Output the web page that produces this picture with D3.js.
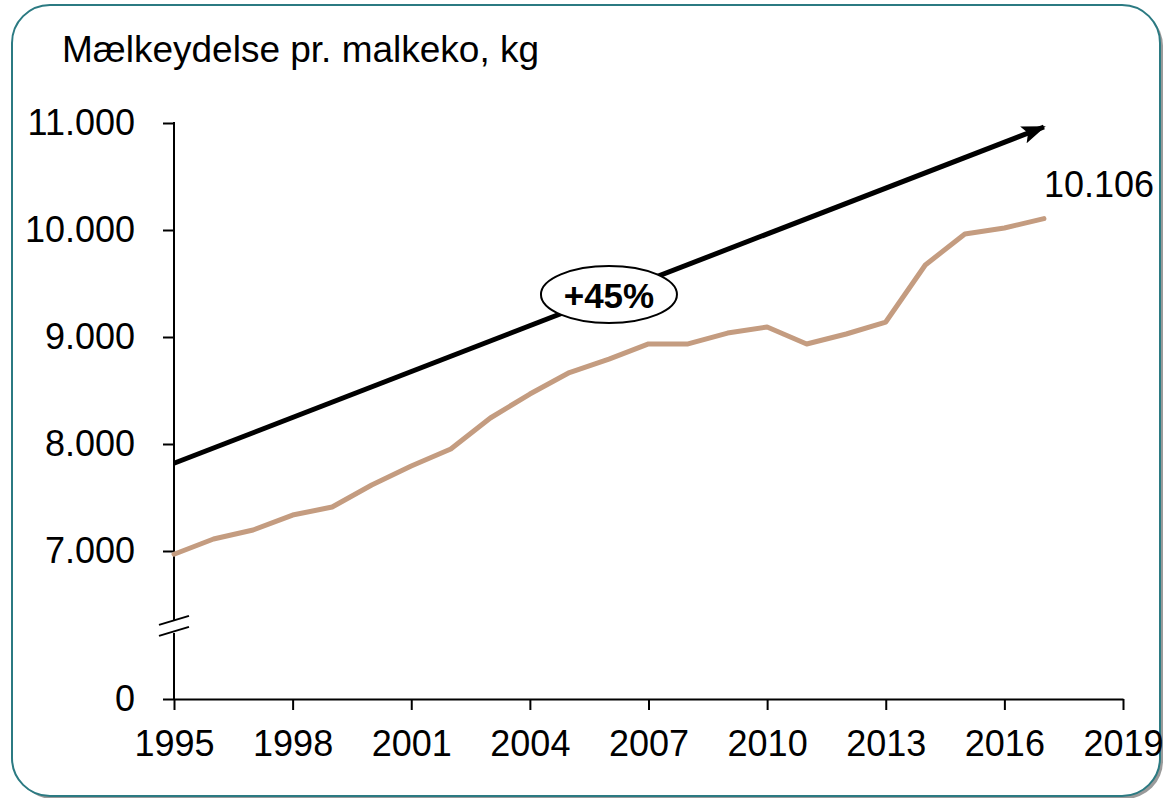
<!DOCTYPE html>
<html>
<head>
<meta charset="utf-8">
<script src="https://cdn.jsdelivr.net/npm/d3@7"></script>
<style>
    body { margin: 0; background: #fff; }
    svg { display: block; font-family: "Liberation Sans", Arial, sans-serif; }
</style>
</head>
<body>
<svg id="chart" width="1166" height="798"></svg>
<script>
// data
const years = [1995, 1996, 1997, 1998, 1999, 2000, 2001, 2002, 2003, 2004, 2005,
               2006, 2007, 2008, 2009, 2010, 2011, 2012, 2013, 2014, 2015, 2016, 2017];
const milk = [6970, 7112, 7196, 7336, 7411, 7617, 7794, 7953, 8243, 8467, 8668,
              8794, 8935, 8935, 9037, 9093, 8935, 9028, 9140, 9673, 9963, 10019, 10106];
const xTicks = [1995, 1998, 2001, 2004, 2007, 2010, 2013, 2016, 2019];
const yTicks = [0, 7000, 8000, 9000, 10000, 11000];
const trendYears = [1995, 2017];
const trendValues = [7820, 10963];
const growthLabel = "+45%";
const growthAt = [2006, 9397];
const title = "Mælkeydelse pr. malkeko, kg";

const plotLeft = 174, plotRight = 1123, plotTop = 123, plotBottom = 699;
const breakValue = 6300;

const svg = d3.select("#chart");
const dk = d3.formatLocale({ decimal: ",", thousands: ".", grouping: [3], currency: ["", " kr."] });
const fmt = dk.format(",");

// frame with a little shadow
svg.append("rect")
    .attr("x", 15).attr("y", 8)
    .attr("width", 1148).attr("height", 791)
    .attr("rx", 38)
    .attr("fill", "#9a9a9a");
svg.append("rect")
    .attr("x", 12).attr("y", 5)
    .attr("width", 1148).attr("height", 791)
    .attr("rx", 38)
    .attr("fill", "#fff")
    .attr("stroke", "#2b7a82")
    .attr("stroke-width", 2);

svg.append("text")
    .attr("x", 62).attr("y", 62)
    .attr("font-size", 37)
    .attr("fill", "#000")
    .text(title);

let xScale = d3.scaleLinear()
    .domain([1995, 2019])
    .range([plotLeft, plotRight]);

// broken axis: 0 sits at the bottom, 6000-11000 is the real scale
let yScale = d3.scaleLinear()
    .domain([0, 6000, 11000])
    .range([plotBottom, plotBottom - 41, plotTop]);

// x axis
let gx = svg.append("g")
    .attr("transform", `translate(0, ${plotBottom})`)
    .call(d3.axisBottom(xScale).tickValues(xTicks).tickFormat(d3.format("d"))
        .tickSize(11).tickPadding(20).tickSizeOuter(0));
gx.select(".domain").attr("stroke", "#000").attr("stroke-width", 2);
gx.selectAll(".tick line").attr("stroke", "#000").attr("stroke-width", 2);
gx.selectAll("text").attr("font-size", 36).attr("fill", "#000")
    .attr("font-family", "'Liberation Sans', Arial, sans-serif");

// y axis
let gy = svg.append("g")
    .attr("transform", `translate(${plotLeft}, 0)`)
    .call(d3.axisLeft(yScale).tickValues(yTicks).tickFormat(fmt)
        .tickSize(11).tickPadding(28).tickSizeOuter(0));
gy.select(".domain").remove();
gy.selectAll(".tick line").attr("stroke", "#000").attr("stroke-width", 2);
gy.selectAll("text").attr("font-size", 36).attr("fill", "#000")
    .attr("font-family", "'Liberation Sans', Arial, sans-serif");

// axis line in two pieces with the break marks between
let yb = yScale(breakValue);
gy.append("line")
    .attr("x1", 0).attr("x2", 0)
    .attr("y1", yScale(11000) - 1).attr("y2", yb - 5)
    .attr("stroke", "#000").attr("stroke-width", 2);
gy.append("line")
    .attr("x1", 0).attr("x2", 0)
    .attr("y1", yb + 7).attr("y2", yScale(0))
    .attr("stroke", "#000").attr("stroke-width", 2);
[-5, 6].forEach(off => {
    gy.append("line")
        .attr("x1", -15).attr("y1", yb + off + 4)
        .attr("x2", 15).attr("y2", yb + off - 5)
        .attr("stroke", "#000").attr("stroke-width", 2);
});

// trend arrow
svg.append("defs").append("marker")
    .attr("id", "head")
    .attr("markerUnits", "userSpaceOnUse")
    .attr("viewBox", "0 0 24 18")
    .attr("refX", 22).attr("refY", 9)
    .attr("markerWidth", 24).attr("markerHeight", 18)
    .attr("orient", "auto")
    .append("path")
    .attr("d", "M0,0 L24,9 L0,18 L5,9 Z")
    .attr("fill", "#000");

svg.append("line")
    .attr("x1", xScale(trendYears[0])).attr("y1", yScale(trendValues[0]))
    .attr("x2", xScale(trendYears[1])).attr("y2", yScale(trendValues[1]))
    .attr("stroke", "#000")
    .attr("stroke-width", 5)
    .attr("marker-end", "url(#head)");

// milk yield line
let line = d3.line()
    .x((d, i) => xScale(years[i]))
    .y(d => yScale(d));

svg.append("path")
    .datum(milk)
    .attr("d", line)
    .attr("fill", "none")
    .attr("stroke", "#c49c80")
    .attr("stroke-width", 5)
    .attr("stroke-linejoin", "round")
    .attr("stroke-linecap", "round");

svg.append("text")
    .attr("x", xScale(years[years.length - 1]))
    .attr("y", yScale(milk[milk.length - 1]) - 22)
    .attr("font-size", 36)
    .attr("fill", "#000")
    .text(fmt(milk[milk.length - 1]));

// growth bubble
let gg = svg.append("g")
    .attr("transform", `translate(${xScale(growthAt[0])}, ${yScale(growthAt[1])})`);
gg.append("ellipse")
    .attr("rx", 68).attr("ry", 28.5)
    .attr("fill", "#fff")
    .attr("stroke", "#000")
    .attr("stroke-width", 2);
gg.append("text")
    .attr("text-anchor", "middle")
    .attr("y", 13)
    .attr("font-size", 35)
    .attr("font-weight", "bold")
    .attr("fill", "#000")
    .text(growthLabel);
</script>
</body>
</html>
